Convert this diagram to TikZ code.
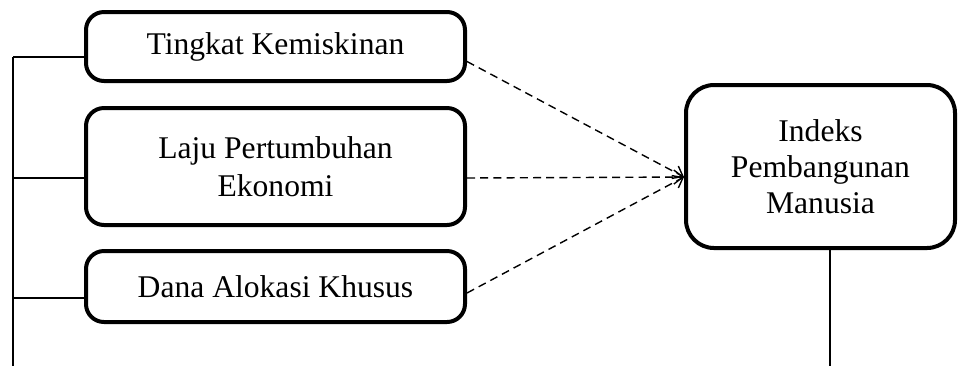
\documentclass[tikz,border=0pt]{standalone}
\usepackage{fontspec}
\setmainfont{Liberation Serif}
\usepackage{tikz}
\usetikzlibrary{calc}
\usetikzlibrary{shapes}
\usetikzlibrary{arrows.meta}
\tikzset{
  varbox/.style={shape=rectangle, draw, line width=2pt, rounded corners=9pt,
    align=center, inner sep=0pt, font=\fontsize{15.8}{19}\selectfont},
  spine/.style={line width=0.75pt},
  effect/.style={-{Straight Barb[length=4.5pt,width=7pt]}, dashed, line width=0.7pt,
    dash pattern=on 4pt off 2.6pt}
}
\begin{document}
\begin{tikzpicture}[x=0.5pt, y=-0.5pt]
        \useasboundingbox (0,0) rectangle (958,366);

        % independent variables
        \node[varbox, minimum width=189.5pt, minimum height=34.5pt] (tk) at (275.5,46.5) {Tingkat Kemiskinan};
        \node[varbox, minimum width=189.5pt, minimum height=58.5pt] (lpe) at (275.5,166.5) {Laju Pertumbuhan\\Ekonomi};
        \node[varbox, minimum width=189.5pt, minimum height=35.5pt] (dak) at (275.5,286.5) {Dana Alokasi Khusus};

        % dependent variable
        \node[varbox, rounded corners=14pt, minimum width=134.5pt, minimum height=81.5pt,
          font=\fontsize{15.8}{18}\selectfont] (ipm) at (820.5,166.5) {Indeks\\Pembangunan\\Manusia};

        % spine
        \coordinate (s1) at (13,57);
        \coordinate (s2) at (13,178);
        \coordinate (s3) at (13,298);
        \coordinate (s4) at (13,366);
        \draw[spine] (s1) -- (s4);
        \draw[spine] (s1) -- (s1 -| tk.west);
        \draw[spine] (s2) -- (s2 -| lpe.west);
        \draw[spine] (s3) -- (s3 -| dak.west);
        \coordinate (ipmbot) at (830,366);
        \draw[spine] (ipm.south -| ipmbot) -- (ipmbot);

        % effects
        \coordinate (ipmin) at ([yshift=-5.25pt]ipm.west);
        \draw[effect] ([yshift=-7.5pt]tk.east) -- (ipmin);
        \draw[effect] ([yshift=-5.75pt]lpe.east) -- (ipmin);
        \draw[effect] ([yshift=-3.25pt]dak.east) -- (ipmin);
    \end{tikzpicture}
\end{document}
